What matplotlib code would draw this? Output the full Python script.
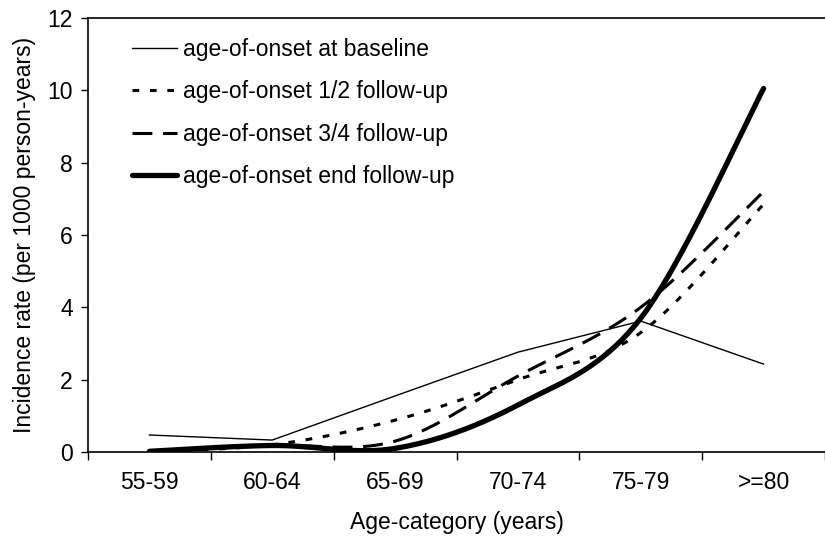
import numpy as np
import matplotlib
matplotlib.use("Agg")
import matplotlib.pyplot as plt

plt.rcParams['font.family'] = ['Liberation Sans', 'DejaVu Sans']

# Data
categories = ['55-59', '60-64', '65-69', '70-74', '75-79', '>=80']
baseline = [0.47, 0.33, 1.55, 2.76, 3.62, 2.43]
half_fu = [0.02, 0.20, 0.88, 2.00, 3.30, 6.85]
three_q_fu = [0.02, 0.18, 0.30, 2.10, 4.00, 7.20]
end_fu = [0.02, 0.18, 0.10, 1.30, 3.70, 10.05]


def smooth(y, n=40):
    # Excel-style smoothed line (Catmull-Rom through the points)
    x = np.arange(len(y), dtype=float)
    y = np.asarray(y, dtype=float)
    px = np.concatenate([[x[0]], x, [x[-1]]])
    py = np.concatenate([[y[0]], y, [y[-1]]])
    xs, ys = [], []
    t = np.linspace(0, 1, n)
    for i in range(1, len(px) - 2):
        p0 = np.array([px[i], py[i]])
        p3 = np.array([px[i + 1], py[i + 1]])
        c1 = p0 + (np.array([px[i + 1], py[i + 1]]) - np.array([px[i - 1], py[i - 1]])) / 6
        c2 = p3 - (np.array([px[i + 2], py[i + 2]]) - np.array([px[i], py[i]])) / 6
        b = ((1 - t) ** 3)[:, None] * p0 + (3 * (1 - t) ** 2 * t)[:, None] * c1 \
            + (3 * (1 - t) * t ** 2)[:, None] * c2 + (t ** 3)[:, None] * p3
        xs.extend(b[:, 0])
        ys.extend(b[:, 1])
    return np.array(xs), np.array(ys)


fs = 16.5
fig = plt.figure(figsize=(8.25, 5.38), dpi=100)
ax = fig.add_axes([88 / 825, 1 - 452 / 538, 1 - 88 / 825, (452 - 18) / 538])

x = np.arange(len(categories))
ax.plot(x, baseline, color='black', lw=1.0, label='age-of-onset at baseline')
sx, sy = smooth(half_fu)
ax.plot(sx, sy, color='black', lw=2.2, linestyle=(0, (2.2, 3.5)),
        label='age-of-onset 1/2 follow-up')
sx, sy = smooth(three_q_fu)
ax.plot(sx, sy, color='black', lw=2.2, linestyle=(0, (6.5, 3.5)),
        label='age-of-onset 3/4 follow-up')
sx, sy = smooth(end_fu)
ax.plot(sx, sy, color='black', lw=3.8, solid_capstyle='round',
        label='age-of-onset end follow-up')

ax.set_ylim(0, 12)
ax.set_xlim(-0.5, (825 - 88) / 124.2 - 0.5)
ax.set_yticks(range(0, 13, 2))
ax.set_xticks(np.arange(-0.5, 6, 1))
ax.set_xticklabels([])
ax.set_xticks(x, minor=True)
ax.set_xticklabels(categories, minor=True)
ax.tick_params(axis='x', which='minor', length=0, pad=14, labelsize=fs)
ax.tick_params(axis='x', which='major', length=6, width=1, direction='out')
ax.tick_params(axis='y', length=5, width=1, direction='out', labelsize=fs, pad=6)

for s in ['left', 'top', 'bottom']:
    ax.spines[s].set_linewidth(1.2)
ax.spines['right'].set_visible(False)

ax.set_xlabel('Age-category (years)', fontsize=fs, labelpad=12)
ax.set_ylabel('Incidence rate (per 1000 person-years)', fontsize=fs, labelpad=8)

ax.legend(loc='upper left', frameon=False, fontsize=fs, handlelength=1.95,
          handletextpad=0.25, labelspacing=0.85, borderaxespad=0,
          bbox_to_anchor=(35 / 737, 0.975))

fig.savefig('out.png', dpi=100)
